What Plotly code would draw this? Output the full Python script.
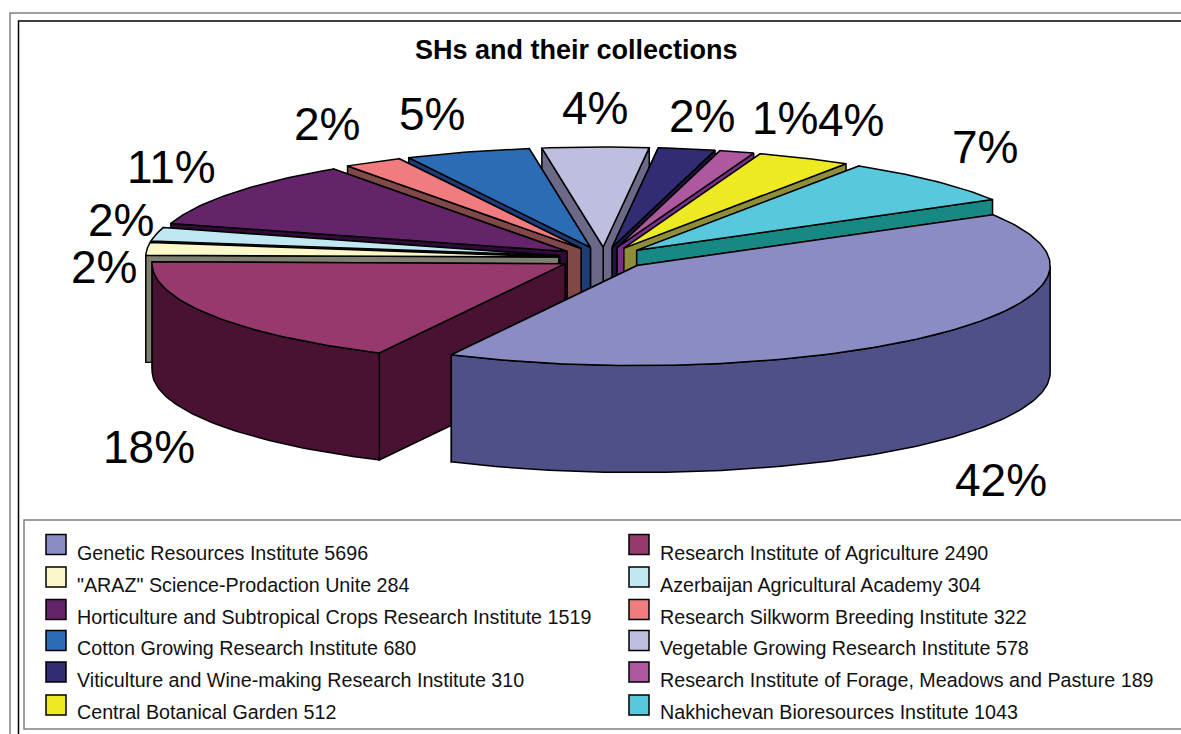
import numpy as np
import plotly.graph_objects as go

institutes = ["Genetic Resources Institute", "Research Institute of Agriculture",
              "\"ARAZ\" Science-Prodaction Unite", "Azerbaijan Agricultural Academy",
              "Horticulture and Subtropical Crops Research Institute", "Research Silkworm Breeding Institute",
              "Cotton Growing Research Institute", "Vegetable Growing Research Institute",
              "Viticulture and Wine-making Research Institute", "Research Institute of Forage, Meadows and Pasture",
              "Central Botanical Garden", "Nakhichevan Bioresources Institute"]
collections = [5696, 2490, 284, 304, 1519, 322, 680, 578, 310, 189, 512, 1043]
percent_labels = ["42%", "18%", "2%", "2%", "11%", "2%", "5%", "4%", "2%", "1%", "4%", "7%"]
title_text = "SHs and their collections"

top_colors = ["#8C8CC4", "#963A6E", "#FAF8C8", "#C0E8F2", "#64246A", "#F07C80",
              "#2C6CB4", "#BEBEDE", "#322C74", "#AE58A0", "#EEEA22", "#58C8DC"]
side_colors = ["#505088", "#4A1232", "#7E8070", "#6A8890", "#300A38", "#804848",
               "#1E3C78", "#6A6A88", "#1A1840", "#7C2C8C", "#8E8E3A", "#188884"]

# layout of the pseudo-3D pie, in figure pixels
CX, CY, RX, RY, DEPTH, EXPLODE = 604, 258, 413, 100, 107, 0.11
START_DEG = -30.5
label_xy = [(1001, 480), (149, 447), (104, 267), (121, 220), (171, 167), (327, 124),
            (432, 114), (595, 108), (702, 116), (785, 118), (851, 120), (985, 147)]

fig = go.Figure()


def poly(xs, ys, color, name):
    fig.add_trace(go.Scatter(x=list(xs) + [xs[0]], y=list(ys) + [ys[0]], mode="lines", fill="toself",
                             fillcolor=color, line=dict(color="black", width=1.5),
                             hoverinfo="text", text=name, showlegend=False))


vals = np.array(collections, dtype=float)
spans = vals / vals.sum() * 2 * np.pi
edges = np.radians(START_DEG) + np.concatenate([[0], np.cumsum(spans)])
mids = (edges[:-1] + edges[1:]) / 2
# painter's order: back slices first, the largest front slice last
order = sorted(range(len(vals)), key=lambda i: (i == 0, i == 1, np.sin(mids[i])))

for i in order:
    a0, a1 = edges[i], edges[i + 1]
    ax = CX + EXPLODE * RX * np.cos(mids[i])
    ay = CY + EXPLODE * RY * np.sin(mids[i])
    t = np.linspace(a0, a1, max(8, int((a1 - a0) * 60)))
    rimx = ax + RX * np.cos(t)
    rimy = ay + RY * np.sin(t)
    name = f"{institutes[i]}: {collections[i]}"
    # cut faces: the one nearer the viewer goes on top
    for k in sorted((0, -1), key=lambda j: rimy[j]):
        poly([ax, rimx[k], rimx[k], ax], [ay, rimy[k], rimy[k] + DEPTH, ay + DEPTH], side_colors[i], name)
    # outer wall (front-facing part of the rim)
    mask = np.sin(t) >= 0
    if mask.sum() > 1:
        wx, wy = rimx[mask], rimy[mask]
        poly(np.concatenate([wx, wx[::-1]]), np.concatenate([wy, wy[::-1] + DEPTH]), side_colors[i], name)
    # top face
    poly(np.concatenate([[ax], rimx]), np.concatenate([[ay], rimy]), top_colors[i], name)

# percentage labels
for txt, (x, y) in zip(percent_labels, label_xy):
    fig.add_annotation(x=x, y=y, text=txt, showarrow=False, xanchor="center", yanchor="middle",
                       font=dict(size=46, color="black", family="Liberation Sans"))

# legend
key_y = [544.5, 577, 609.5, 640.5, 672, 705]
text_y = [553, 585, 617, 648, 680, 712]
col_key_x = [56, 639]
col_text_x = [75, 658]
fig.add_trace(go.Scatter(
    x=[col_key_x[i % 2] for i in range(12)], y=[key_y[i // 2] for i in range(12)], mode="markers",
    marker=dict(symbol="square", size=20, color=top_colors, line=dict(color="black", width=1.5)),
    hoverinfo="skip", showlegend=False))
for i, (n, v) in enumerate(zip(institutes, collections)):
    fig.add_annotation(x=col_text_x[i % 2], y=text_y[i // 2], text=f"{n} {v}", showarrow=False,
                       xanchor="left", yanchor="middle",
                       font=dict(size=19.7, color="#111111", family="Liberation Sans"))

fig.add_annotation(x=576.5, y=50, text=f"<b>{title_text}</b>", showarrow=False, xanchor="center", yanchor="middle",
                   font=dict(size=27, color="black", family="Liberation Sans"))

# frames
fig.add_shape(type="rect", x0=10, y0=13, x1=1300, y1=800, line=dict(color="#808080", width=1.5))
fig.add_shape(type="rect", x0=18.5, y0=21, x1=1300, y1=800, line=dict(color="black", width=1.5))
fig.add_shape(type="rect", x0=24, y0=520, x1=1300, y1=729, line=dict(color="#808080", width=1.5))

fig.update_layout(width=1181, height=734, margin=dict(l=0, r=0, t=0, b=0),
                  paper_bgcolor="white", plot_bgcolor="white", showlegend=False,
                  xaxis=dict(range=[0, 1181], visible=False, fixedrange=True),
                  yaxis=dict(range=[734, 0], visible=False, fixedrange=True))
fig.write_html("out.html", post_script="document.body.style.margin='0';document.body.style.overflow='hidden';",
               config={"displayModeBar": False})
